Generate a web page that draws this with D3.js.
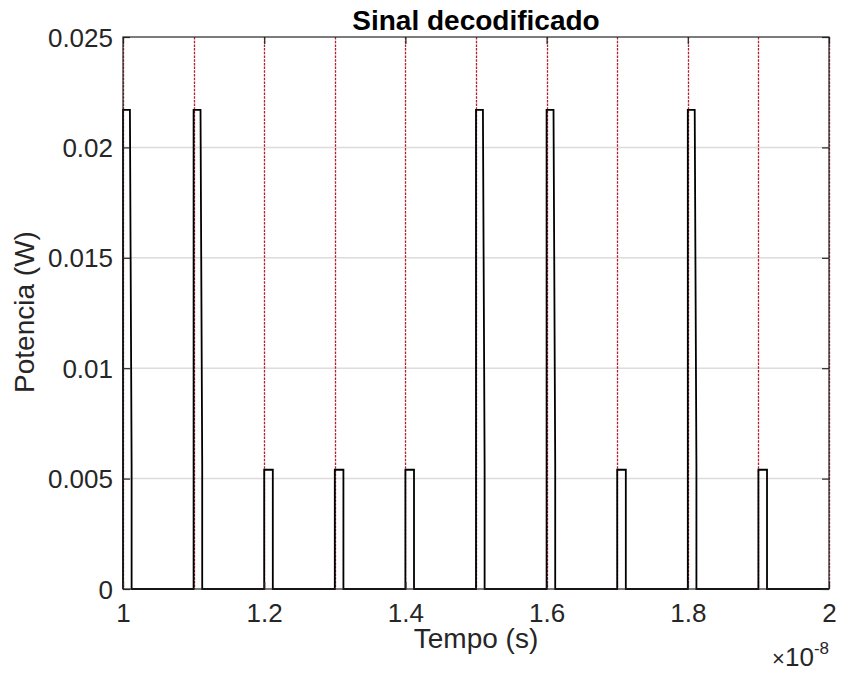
<!DOCTYPE html>
<html>
<head>
<meta charset="utf-8">
<script src="https://cdn.jsdelivr.net/npm/d3@7"></script>
<style>
  html, body { margin: 0; padding: 0; background: #fff; }
  svg { display: block; font-family: "Liberation Sans", Arial, Helvetica, sans-serif; }
</style>
</head>
<body>
<svg id="chart" width="842" height="675"></svg>
<script>
// Bit slots (start time, in units of 1e-8 s) and decoded peak power per slot (W)
const slotStart = [1.0, 1.1, 1.2, 1.3, 1.4, 1.5, 1.6, 1.7, 1.8, 1.9];
const slotPeak  = [0.0217, 0.0217, 0.0054, 0.0054, 0.0054, 0.0217, 0.0217, 0.0054, 0.0217, 0.0054];
// Pulse shape inside a slot (offsets in units of 1e-8 s, tail level in W)
const pulseFlatEnd = 0.0098;
const pulseFallEnd = 0.0122;
const highTailLevel = 0.0056;
// Slot boundaries (red markers) and axis ticks
const slotBounds = [1.0, 1.1, 1.2, 1.3, 1.4, 1.5, 1.6, 1.7, 1.8, 1.9, 2.0];
const xTicks = [1.0, 1.2, 1.4, 1.6, 1.8, 2.0];
const xTickLabels = ["1", "1.2", "1.4", "1.6", "1.8", "2"];
const yTicks = [0, 0.005, 0.01, 0.015, 0.02, 0.025];
const yTickLabels = ["0", "0.005", "0.01", "0.015", "0.02", "0.025"];

(function () {
  const svg = d3.select("#chart");
  const pLeft = 123, pRight = 829, pTop = 37, pBottom = 589;
  const axisColor = "#262626";

  const x = d3.scaleLinear().domain([1.0, 2.0]).range([pLeft, pRight]);
  const y = d3.scaleLinear().domain([0, 0.025]).range([pBottom, pTop]);

  // horizontal grid
  svg.append("g").selectAll("line")
    .data(yTicks.filter(v => v > 0 && v < 0.025))
    .join("line")
    .attr("x1", pLeft).attr("x2", pRight)
    .attr("y1", d => y(d)).attr("y2", d => y(d))
    .attr("stroke", "#dcdcdc").attr("stroke-width", 1.5);

  // slot boundary markers
  svg.append("g").selectAll("line")
    .data(slotBounds)
    .join("line")
    .attr("x1", d => Math.round(x(d)) + 0.5).attr("x2", d => Math.round(x(d)) + 0.5)
    .attr("y1", pTop).attr("y2", pBottom)
    .attr("stroke", "#b0202e").attr("stroke-width", 1.3)
    .attr("stroke-dasharray", "2.5,1.2");

  // decoded signal as a polyline
  const pts = [];
  slotStart.forEach((t, i) => {
    const p = slotPeak[i];
    pts.push([t, 0]);
    pts.push([t, p]);
    if (p > 0.01) {
      pts.push([t + pulseFlatEnd, p]);
      pts.push([t + pulseFallEnd, highTailLevel]);
    } else {
      pts.push([t + pulseFallEnd, p]);
    }
    pts.push([t + pulseFallEnd, 0]);
  });
  pts.push([2.0, 0]);

  svg.append("path")
    .datum(pts)
    .attr("fill", "none")
    .attr("stroke", "#000")
    .attr("stroke-width", 1.8)
    .attr("stroke-linejoin", "miter")
    .attr("d", d3.line().x(d => x(d[0])).y(d => y(d[1])));

  // axes with inward ticks
  const tickLen = 7;
  const fontSize = 26;
  const gx = svg.append("g").attr("transform", `translate(0,${pBottom})`)
    .call(d3.axisBottom(x).tickValues(xTicks).tickSizeInner(-tickLen).tickSizeOuter(0)
      .tickFormat((d, i) => xTickLabels[i]));
  const gxTop = svg.append("g").attr("transform", `translate(0,${pTop})`)
    .call(d3.axisTop(x).tickValues(xTicks).tickSizeInner(-tickLen).tickSizeOuter(0).tickFormat(""));
  const gy = svg.append("g").attr("transform", `translate(${pLeft},0)`)
    .call(d3.axisLeft(y).tickValues(yTicks).tickSizeInner(-tickLen).tickSizeOuter(0)
      .tickFormat((d, i) => yTickLabels[i]));
  const gyRight = svg.append("g").attr("transform", `translate(${pRight},0)`)
    .call(d3.axisRight(y).tickValues(yTicks).tickSizeInner(-tickLen).tickSizeOuter(0).tickFormat(""));

  [gx, gxTop, gy, gyRight].forEach(g => {
    g.select(".domain").remove();
    g.selectAll(".tick line").attr("stroke", axisColor).attr("stroke-width", 1.2);
    g.selectAll("text").attr("fill", axisColor)
      .style("font-size", fontSize + "px")
      .style("font-family", "'Liberation Sans', Arial, sans-serif");
  });
  gx.selectAll("text").attr("y", 15).attr("dy", "0.71em");
  gy.selectAll("text").attr("x", -10).attr("dy", "0.35em");

  // box
  svg.append("rect")
    .attr("x", pLeft).attr("y", pTop)
    .attr("width", pRight - pLeft).attr("height", pBottom - pTop)
    .attr("fill", "none").attr("stroke", axisColor).attr("stroke-width", 1.2);

  // exponent
  const ex = svg.append("text").attr("x", 829).attr("y", 666)
    .attr("text-anchor", "end").attr("fill", axisColor)
    .style("font-size", "26px");
  ex.append("tspan").style("font-size", "22px").style("font-weight", "300").text("\u00d7");
  ex.append("tspan").text("10");
  ex.append("tspan").attr("dy", -12).style("font-size", "17px").text("-8");

  // labels
  svg.append("text")
    .attr("x", (pLeft + pRight) / 2).attr("y", 648)
    .attr("text-anchor", "middle").attr("fill", axisColor)
    .style("font-size", "28px").text("Tempo (s)");

  svg.append("text")
    .attr("transform", `translate(34,312) rotate(-90)`)
    .attr("text-anchor", "middle").attr("fill", axisColor)
    .style("font-size", "28px").text("Potencia (W)");

  svg.append("text")
    .attr("x", (pLeft + pRight) / 2).attr("y", 30)
    .attr("text-anchor", "middle").attr("fill", "#000")
    .style("font-size", "28px").style("font-weight", "bold")
    .text("Sinal decodificado");
})();
</script>
</body>
</html>
